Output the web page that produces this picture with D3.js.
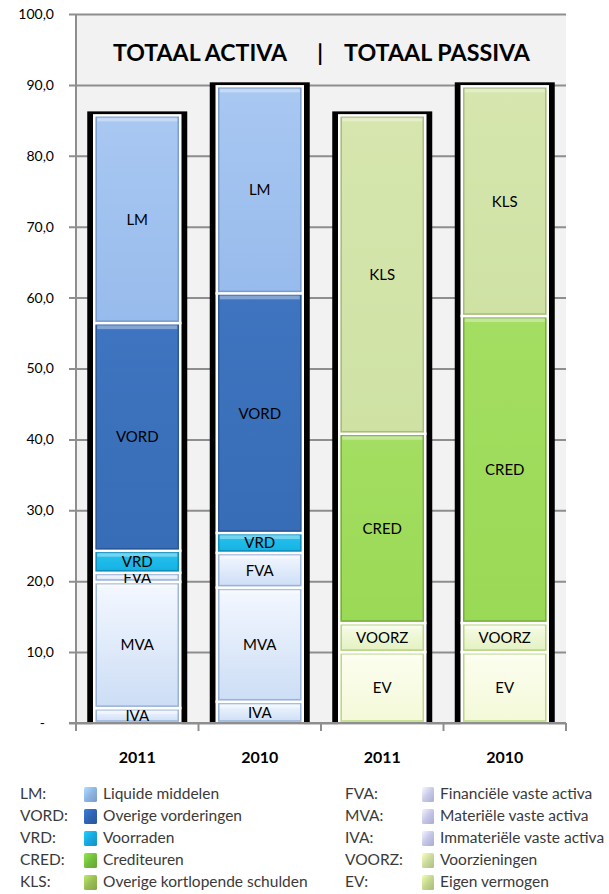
<!DOCTYPE html>
<html>
<head>
<meta charset="utf-8">
<script src="https://cdn.jsdelivr.net/npm/d3@7"></script>
<style>
  body { margin: 0; background: #fff; }
  svg { display: block; }
  text { font-family: Lato, "Open Sans", sans-serif; }
</style>
</head>
<body>
<div id="chart"></div>
<script>
// data
var categories = ['A2011', 'A2010', 'P2011', 'P2010'];
var categoryLabels = ['2011', '2010', '2011', '2010'];

var activaSeries = ['IVA', 'MVA', 'FVA', 'VRD', 'VORD', 'LM'];
var activa2011 = [2.1, 17.8, 1.3, 3.1, 32.1, 29.3];
var activa2010 = [3.0, 16.1, 4.9, 2.8, 33.8, 29.2];

var passivaSeries = ['EV', 'VOORZ', 'CRED', 'KLS'];
var passiva2011 = [10.0, 4.1, 26.7, 44.9];
var passiva2010 = [10.0, 4.1, 43.3, 32.4];

var yTicks = [0, 10, 20, 30, 40, 50, 60, 70, 80, 90, 100];

var legendLeftCodes = ['LM:', 'VORD:', 'VRD:', 'CRED:', 'KLS:'];
var legendLeftNames = ['Liquide middelen', 'Overige vorderingen', 'Voorraden', 'Crediteuren', 'Overige kortlopende schulden'];
var legendLeftKeys = ['LM', 'VORD', 'VRD', 'CRED', 'KLS'];
var legendRightCodes = ['FVA:', 'MVA:', 'IVA:', 'VOORZ:', 'EV:'];
var legendRightNames = ['Financiële vaste activa', 'Materiële vaste activa', 'Immateriële vaste activa', 'Voorzieningen', 'Eigen vermogen'];
var legendRightKeys = ['FVA', 'MVA', 'IVA', 'VOORZ', 'EV'];

// colours: top / bottom of fill, and the bevel edge
var segStyle = {
    LM    : { top : '#A9C8F2', bottom : '#97BBEC', edge : '#6F92C2' },
    VORD  : { top : '#3F75C0', bottom : '#376CB6', edge : '#25528E' },
    VRD   : { top : '#2BC2EE', bottom : '#12B1E3', edge : '#0C83AD' },
    FVA   : { top : '#F4F8FF', bottom : '#CCDDF5', edge : '#86A3CF' },
    MVA   : { top : '#F4F8FF', bottom : '#CCDDF5', edge : '#86A3CF' },
    IVA   : { top : '#F4F8FF', bottom : '#CCDDF5', edge : '#86A3CF' },
    CRED  : { top : '#A4DE62', bottom : '#9AD955', edge : '#6E9F38' },
    KLS   : { top : '#D6E6AE', bottom : '#CFE2A4', edge : '#9BAE73' },
    VOORZ : { top : '#F8FCE8', bottom : '#E2F1C0', edge : '#A6C867' },
    EV    : { top : '#FDFEF0', bottom : '#F3F9D8', edge : '#A6CB68' }
};
var legendColors = {
    LM : '#8EB4E3', VORD : '#2F64B2', VRD : '#18A8E0', CRED : '#74BE3C', KLS : '#99BE55',
    FVA : '#C9C9EA', MVA : '#C5C5E8', IVA : '#C5C5E8', VOORZ : '#CBDA9C', EV : '#C4D68E'
};

var width = 609, height = 894;
var plot = { left : 76, right : 566, top : 14, bottom : 723 };

var svg = d3.select('#chart').append('svg').attr('width', width).attr('height', height);
var defs = svg.append('defs');

Object.keys(segStyle).forEach(function(key) {
    var g = defs.append('linearGradient').attr('id', 'grad_' + key).attr('x1', 0).attr('y1', 0).attr('x2', 0).attr('y2', 1);
    g.append('stop').attr('offset', 0).attr('stop-color', segStyle[key].top);
    g.append('stop').attr('offset', 1).attr('stop-color', segStyle[key].bottom);
});
Object.keys(legendColors).forEach(function(key) {
    var g = defs.append('linearGradient').attr('id', 'lgrad_' + key).attr('x1', 0).attr('y1', 0).attr('x2', 1).attr('y2', 1);
    g.append('stop').attr('offset', 0).attr('stop-color', d3.color(legendColors[key]).brighter(0.6));
    g.append('stop').attr('offset', 0.5).attr('stop-color', legendColors[key]);
    g.append('stop').attr('offset', 1).attr('stop-color', d3.color(legendColors[key]).darker(0.4));
});

var x = d3.scaleBand().domain(categories).range([plot.left, plot.right]).padding(0);
var y = d3.scaleLinear().domain([0, 100]).range([plot.bottom, plot.top]);

// plot background
svg.append('rect').attr('x', plot.left).attr('y', plot.top)
    .attr('width', plot.right - plot.left).attr('height', plot.bottom - plot.top).attr('fill', '#F2F2F2');

// gridlines + y axis
var yAxis = d3.axisLeft(y).tickValues(yTicks).tickSize(-(plot.right - plot.left))
    .tickFormat(function(d) { return d === 0 ? '-' : d3.format('.1f')(d).replace('.', ','); });
var yAxisG = svg.append('g').attr('transform', 'translate(' + plot.left + ',0)').call(yAxis);
yAxisG.select('.domain').remove();
yAxisG.selectAll('.tick line').attr('stroke', '#8E8E8E').attr('stroke-width', 2).attr('x1', -7);
yAxisG.selectAll('.tick text').attr('font-size', 14).attr('fill', '#000')
    .attr('x', function(d) { return d === 0 ? -31 : -22; });
svg.append('line').attr('x1', plot.left).attr('x2', plot.left).attr('y1', plot.top).attr('y2', plot.bottom + 8)
    .attr('stroke', '#8E8E8E').attr('stroke-width', 2);

// stacks
var stacks = [
    { key : 'A2011', series : activaSeries, values : activa2011 },
    { key : 'A2010', series : activaSeries, values : activa2010 },
    { key : 'P2011', series : passivaSeries, values : passiva2011 },
    { key : 'P2010', series : passivaSeries, values : passiva2010 }
];

var frameW = 100, segW = 86;
stacks.forEach(function(stack) {
    var cx = x(stack.key) + x.bandwidth() / 2;
    var total = d3.sum(stack.values);
    var g = svg.append('g');

    g.append('rect').attr('x', cx - frameW / 2).attr('y', y(total) - 4)
        .attr('width', frameW).attr('height', y(0) - y(total) + 4).attr('fill', '#000');

    var segs = [], acc = 0;
    stack.series.forEach(function(name, i) {
        segs.push({ name : name, y0 : acc, y1 : acc + stack.values[i] });
        acc += stack.values[i];
    });

    var seg = g.selectAll('g.seg').data(segs).enter().append('g').attr('class', 'seg');
    seg.append('rect')
        .attr('x', cx - segW / 2).attr('width', segW)
        .attr('y', function(d) { return y(d.y1); })
        .attr('height', function(d) { return y(d.y0) - y(d.y1); })
        .attr('fill', function(d) { return 'url(#grad_' + d.name + ')'; })
        .attr('stroke', '#fff').attr('stroke-width', 2.5);
    // bevel edge
    seg.append('rect')
        .attr('x', cx - segW / 2 + 2).attr('width', segW - 4)
        .attr('y', function(d) { return y(d.y1) + 2; })
        .attr('height', function(d) { return Math.max(0, y(d.y0) - y(d.y1) - 4); })
        .attr('fill', 'none')
        .attr('stroke', function(d) { return segStyle[d.name].edge; })
        .attr('stroke-width', 1.5).attr('stroke-opacity', 0.75);
    // top highlight
    seg.append('rect')
        .attr('x', cx - segW / 2 + 3).attr('width', segW - 6)
        .attr('y', function(d) { return y(d.y1) + 2; })
        .attr('height', function(d) { return Math.min(4, Math.max(0, y(d.y0) - y(d.y1) - 4)); })
        .attr('fill', '#fff').attr('fill-opacity', 0.35);
    seg.append('text')
        .attr('x', cx)
        .attr('y', function(d) { return (y(d.y0) + y(d.y1)) / 2; })
        .attr('dy', '0.36em').attr('text-anchor', 'middle')
        .attr('font-size', 15).attr('fill', '#000')
        .text(function(d) { return d.name; });
});

// x axis
svg.append('line').attr('x1', plot.left - 7).attr('x2', plot.right).attr('y1', plot.bottom).attr('y2', plot.bottom)
    .attr('stroke', '#8E8E8E').attr('stroke-width', 2);
var xAxis = d3.axisBottom(x).tickFormat(function(d, i) { return categoryLabels[i]; }).tickSize(0).tickPadding(29);
var xAxisG = svg.append('g').attr('transform', 'translate(0,' + plot.bottom + ')').call(xAxis);
xAxisG.select('.domain').remove();
xAxisG.selectAll('.tick text').attr('font-size', 16).attr('font-weight', 'bold').attr('fill', '#000');
svg.selectAll('line.cattick').data(categories.concat(['end'])).enter().append('line').attr('class', 'cattick')
    .attr('x1', function(d) { return d === 'end' ? plot.right : x(d); })
    .attr('x2', function(d) { return d === 'end' ? plot.right : x(d); })
    .attr('y1', plot.bottom).attr('y2', plot.bottom + 8)
    .attr('stroke', '#8E8E8E').attr('stroke-width', 2);

// title
svg.append('text').attr('x', 113).attr('y', 61).attr('font-size', 22).attr('font-weight', 'bold')
    .attr('textLength', 174).attr('lengthAdjust', 'spacingAndGlyphs').text('TOTAAL ACTIVA');
svg.append('text').attr('x', 320).attr('y', 61).attr('font-size', 22).attr('font-weight', 'bold')
    .attr('text-anchor', 'middle').text('|');
svg.append('text').attr('x', 344).attr('y', 61).attr('font-size', 22).attr('font-weight', 'bold')
    .attr('textLength', 186).attr('lengthAdjust', 'spacingAndGlyphs').text('TOTAAL PASSIVA');

// legend
var rowY = [794, 816, 838, 860, 882];
function drawLegend(codes, names, keys, codeX, iconX, iconW, textX) {
    var lg = svg.append('g').selectAll('g').data(codes).enter().append('g');
    lg.append('text').attr('x', codeX).attr('y', function(d, i) { return rowY[i]; }).attr('dy', '0.35em')
        .attr('font-size', 15.5).attr('fill', '#3A3A3A').text(function(d) { return d; });
    lg.append('rect').attr('x', iconX).attr('y', function(d, i) { return rowY[i] - 7; })
        .attr('width', iconW).attr('height', 15).attr('rx', 1.5)
        .attr('fill', function(d, i) { return 'url(#lgrad_' + keys[i] + ')'; });
    lg.append('text').attr('x', textX).attr('y', function(d, i) { return rowY[i]; }).attr('dy', '0.35em')
        .attr('font-size', 15.5).attr('fill', '#3A3A3A').text(function(d, i) { return names[i]; });
}
drawLegend(legendLeftCodes, legendLeftNames, legendLeftKeys, 20, 84, 13, 103);
drawLegend(legendRightCodes, legendRightNames, legendRightKeys, 345, 422, 12, 440);
</script>
</body>
</html>
